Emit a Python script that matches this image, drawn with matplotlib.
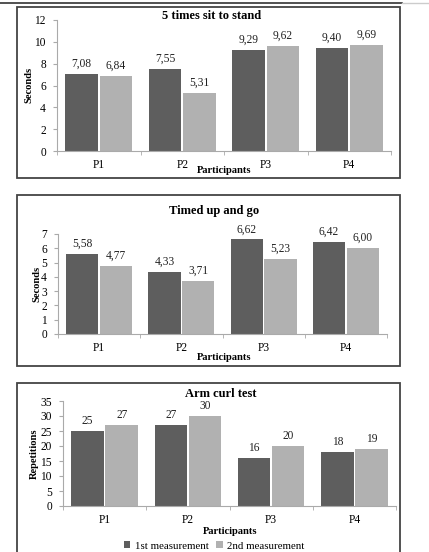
import numpy as np
import matplotlib
matplotlib.use("Agg")
import matplotlib.pyplot as plt
from matplotlib.patches import Rectangle
from matplotlib.lines import Line2D

plt.rcParams['font.family'] = ['Liberation Serif', 'DejaVu Serif']

participants = ['P1', 'P2', 'P3', 'P4']
series_names = ['1st measurement', '2nd measurement']

sit_first = [7.08, 7.55, 9.29, 9.40]
sit_second = [6.84, 5.31, 9.62, 9.69]
tug_first = [5.58, 4.33, 6.62, 6.42]
tug_second = [4.77, 3.71, 5.23, 6.00]
curl_first = [25, 27, 16, 18]
curl_second = [27, 30, 20, 19]

dark = '#5e5e5e'
light = '#b1b1b1'

W, H = 429, 552
fig = plt.figure(figsize=(W / 100, H / 100), dpi=100)


def px_axes(left, top, right, bottom):
    return fig.add_axes([left / W, 1 - bottom / H, (right - left) / W, (bottom - top) / H])


def px_box(left, top, right, bottom):
    fig.patches.append(Rectangle((left / W, 1 - bottom / H), (right - left) / W, (bottom - top) / H,
                                 transform=fig.transFigure, fill=False, edgecolor='#444444',
                                 linewidth=1.3))


def px_text(x, y, s, **kw):
    return fig.text(x / W, 1 - y / H, s, ha='center', va='center', **kw)


def fmt(v, dec):
    if dec == 0:
        return '%d' % v
    return ('%.2f' % v).replace('.', ',')


def panel(ax, first, second, ymax, ystep, dec):
    x = np.arange(len(participants))
    bw = 0.39
    b1 = ax.bar(x - bw / 2 - 0.01, first, bw, color=dark, label=series_names[0])
    b2 = ax.bar(x + bw / 2 + 0.01, second, bw, color=light, label=series_names[1])
    for bars, vals in ((b1, first), (b2, second)):
        for r, v in zip(bars, vals):
            ax.annotate(fmt(v, dec), (r.get_x() + r.get_width() / 2, r.get_height()),
                        xytext=(0, 3), textcoords='offset points', ha='center', va='bottom',
                        fontsize=8.3, color='#222222')
    ax.set_xlim(-0.5, len(participants) - 0.5)
    ax.set_ylim(0, ymax)
    ax.set_yticks(np.arange(0, ymax + 0.01, ystep))
    ax.set_xticks(x)
    ax.set_xticklabels(participants)
    ax.set_xticks(np.arange(-0.5, len(participants)), minor=True)
    ax.tick_params(axis='x', which='major', length=0, labelsize=8.3, pad=6)
    ax.tick_params(axis='x', which='minor', length=3, color='#aaaaaa')
    ax.tick_params(axis='y', length=3, color='#aaaaaa', labelsize=8.3, pad=5)
    for s in ('top', 'right'):
        ax.spines[s].set_visible(False)
    for s in ('left', 'bottom'):
        ax.spines[s].set_color('#aaaaaa')
        ax.spines[s].set_linewidth(0.8)


# top rule
fig.add_artist(Line2D([0, 402 / W], [1 - 3 / H, 1 - 3 / H], transform=fig.transFigure,
                      color='#333333', linewidth=1.2))
fig.add_artist(Line2D([402 / W, 1], [1 - 3 / H, 1 - 3 / H], transform=fig.transFigure,
                      color='#cccccc', linewidth=1.0))

px_box(17, 7, 400, 178)
px_box(17, 195, 400, 366)
px_box(17, 383, 400, 560)

title_kw = dict(fontsize=9, fontweight='bold')
label_kw = dict(fontsize=7.6, fontweight='bold')

ax1 = px_axes(57, 20, 391, 151)
panel(ax1, sit_first, sit_second, 12, 2, 2)
px_text(212, 16, '5 times sit to stand', **title_kw)
px_text(29, 85, 'Seconds', rotation=90, **label_kw)
px_text(224, 171, 'Participants', **label_kw)

ax2 = px_axes(58, 234, 387, 334)
panel(ax2, tug_first, tug_second, 7, 1, 2)
px_text(214, 211, 'Timed up and go', **title_kw)
px_text(37, 284, 'Seconds', rotation=90, **label_kw)
px_text(224, 358, 'Participants', **label_kw)

ax3 = px_axes(63, 401, 396, 506)
panel(ax3, curl_first, curl_second, 35, 5, 0)
px_text(221, 394, 'Arm curl test', **title_kw)
px_text(34, 454, 'Repetitions', rotation=90, **label_kw)
px_text(230, 531, 'Participants', **label_kw)

fig.legend(*ax3.get_legend_handles_labels(), loc='center',
           bbox_to_anchor=(214 / W, 1 - 546 / H), ncol=2, frameon=False,
           fontsize=7.8, handlelength=0.6, handleheight=0.6, handletextpad=0.4,
           columnspacing=0.7, borderpad=0)

fig.savefig('out.png', dpi=100)
